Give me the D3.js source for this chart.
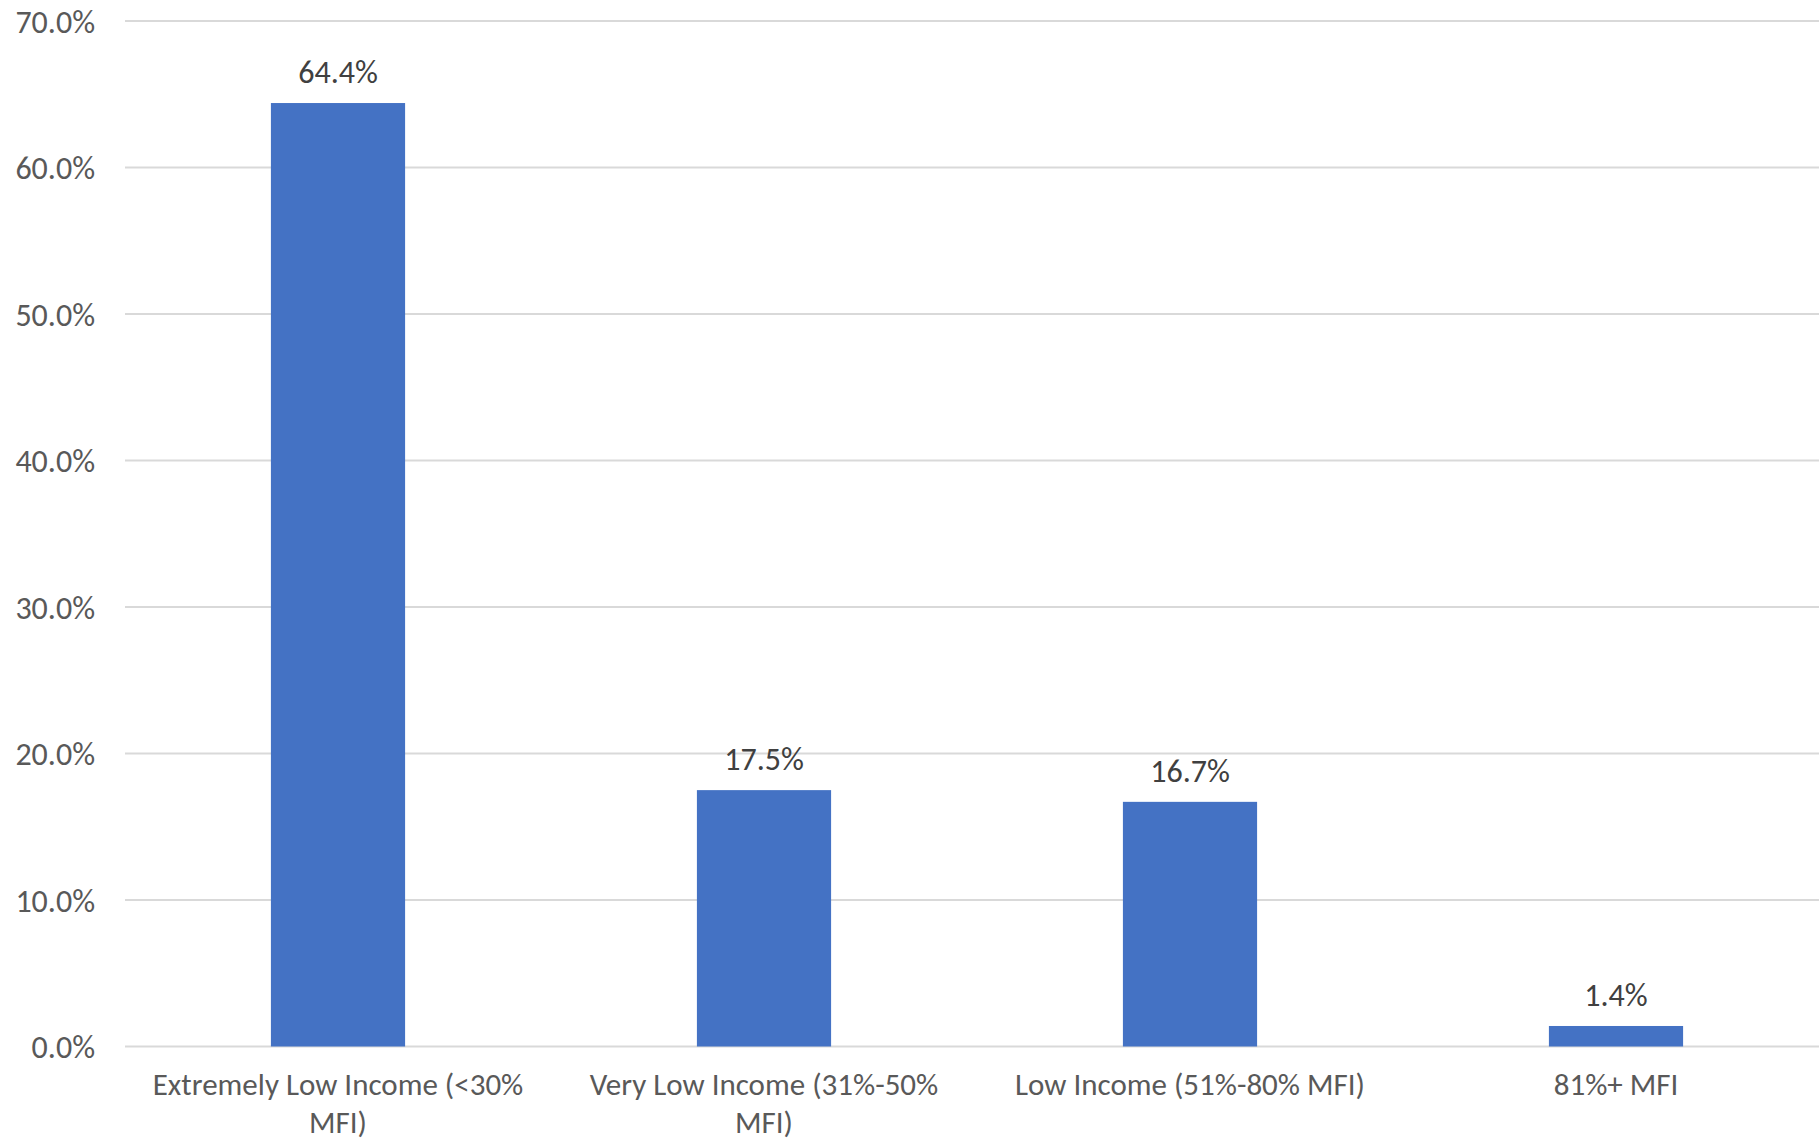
<!DOCTYPE html>
<html>
<head>
<meta charset="utf-8">
<script src="https://cdn.jsdelivr.net/npm/d3@7"></script>
<style>
  html, body { margin: 0; padding: 0; background: #fff; overflow: hidden; }
  svg { display: block; }
  text { font-family: Carlito, "Open Sans", "Liberation Sans", sans-serif; }
</style>
</head>
<body>
<svg id="chart" width="1819" height="1143"></svg>
<script>
const categories = [
  "Extremely Low Income (<30% MFI)",
  "Very Low Income (31%-50% MFI)",
  "Low Income (51%-80% MFI)",
  "81%+ MFI"
];
const values = [64.4, 17.5, 16.7, 1.4];
const yTicks = [0, 10, 20, 30, 40, 50, 60, 70];

const W = 1819, H = 1143;
const svg = d3.select("#chart");
const plot = { left: 125, right: 1829, top: 21, bottom: 1046.5 };
const FS = "32px";
const FSX = "31px";

const x = d3.scaleBand().domain(categories).range([plot.left, plot.right]).padding(0);
const y = d3.scaleLinear().domain([0, 70]).range([plot.bottom, plot.top]);
const barFrac = 0.315;
const barW = x.bandwidth() * barFrac;

// gridlines
svg.append("g").selectAll("line").data(yTicks).join("line")
  .attr("x1", plot.left).attr("x2", W)
  .attr("y1", d => y(d)).attr("y2", d => y(d))
  .attr("stroke", "#D9D9D9").attr("stroke-width", 2);

// y axis labels
const yAxis = d3.axisLeft(y).tickValues(yTicks).tickSize(0).tickPadding(0)
  .tickFormat(d => d3.format(".1f")(d) + "%");
const ya = svg.append("g").attr("transform", `translate(95,0)`).call(yAxis);
ya.select(".domain").remove();
ya.selectAll("text").attr("fill", "#595959").style("font-size", FS)
  .style("font-family", 'Carlito, "Open Sans", sans-serif').attr("dy", "0.35em");

// bars
svg.append("g").selectAll("rect").data(values).join("rect")
  .attr("x", (d, i) => x(categories[i]) + (x.bandwidth() - barW) / 2)
  .attr("width", barW)
  .attr("y", d => y(d))
  .attr("height", d => y(0) - y(d))
  .attr("fill", "#4472C4");

// value labels
svg.append("g").selectAll("text").data(values).join("text")
  .attr("x", (d, i) => x(categories[i]) + x.bandwidth() / 2)
  .attr("y", d => y(d) - 20)
  .attr("text-anchor", "middle")
  .attr("fill", "#404040")
  .style("font-size", FS)
  .text(d => d3.format(".1f")(d) + "%");

// x axis labels with wrapping
const xa = svg.append("g");
const maxW = 395;
categories.forEach((c, i) => {
  const cx = x(c) + x.bandwidth() / 2;
  const t = xa.append("text")
    .attr("x", cx)
    .attr("y", 1095)
    .attr("text-anchor", "middle")
    .attr("fill", "#595959")
    .style("font-size", FSX);
  const words = c.split(" ");
  let line = [];
  let ts = t.append("tspan").attr("x", cx).attr("dy", 0);
  words.forEach(w => {
    line.push(w);
    ts.text(line.join(" "));
    if (ts.node().getComputedTextLength() > maxW && line.length > 1) {
      line.pop();
      ts.text(line.join(" "));
      line = [w];
      ts = t.append("tspan").attr("x", cx).attr("dy", 38).text(w);
    }
  });
});
</script>
</body>
</html>
